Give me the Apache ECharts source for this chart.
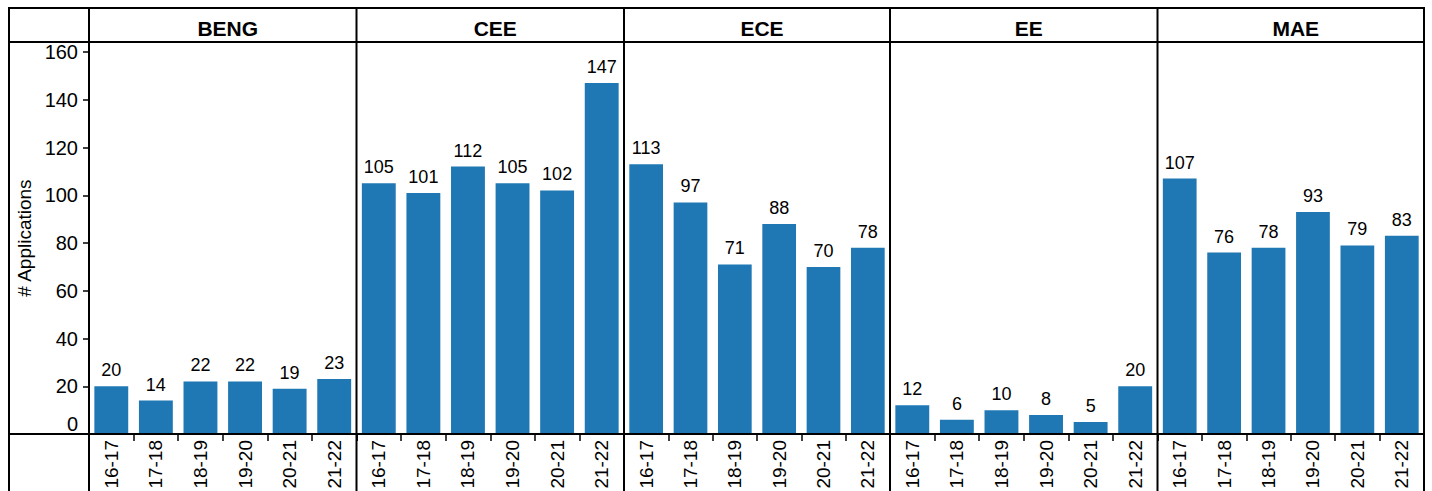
<!DOCTYPE html>
<html>
<head>
<meta charset="utf-8">
<script src="https://cdn.jsdelivr.net/npm/echarts@6/dist/echarts.min.js"></script>
<style>
html,body{margin:0;padding:0;background:#fff;}
#chart{width:1432px;height:491px;}
</style>
</head>
<body>
<div id="chart"></div>
<script>
// ---- data ----
const facets = ['BENG', 'CEE', 'ECE', 'EE', 'MAE'];
const years = ['16-17', '17-18', '18-19', '19-20', '20-21', '21-22'];
const beng = [20, 14, 22, 22, 19, 23];
const cee = [105, 101, 112, 105, 102, 147];
const ece = [113, 97, 71, 88, 70, 78];
const ee = [12, 6, 10, 8, 5, 20];
const mae = [107, 76, 78, 93, 79, 83];
const yTicks = [0, 20, 40, 60, 80, 100, 120, 140, 160];
const yTitle = '# Applications';

const seriesData = [beng, cee, ece, ee, mae];

// ---- layout ----
const FONT = '"Liberation Sans", Arial, Helvetica, sans-serif';
const cols = [89, 356.5, 624, 890, 1157.5, 1424];
const outerL = 9, outerT = 8, headB = 42, axisY = 434, H = 491;
const BAR = '#1f77b4';

const grids = [], xAxes = [], yAxes = [], series = [], titles = [];
facets.forEach((f, i) => {
  const l = cols[i], w = cols[i + 1] - cols[i];
  grids.push({ left: l, top: headB, width: w, height: axisY - headB, containLabel: false, outerBoundsMode: 'none' });
  titles.push({
    text: f, left: l + w / 2, top: 13, textAlign: 'center',
    textStyle: { fontFamily: FONT, fontSize: 21, fontWeight: 'bold', color: '#000' }
  });
  xAxes.push({
    type: 'category', gridIndex: i, data: years,
    axisLine: { show: false },
    axisTick: { show: true, length: 7, lineStyle: { color: '#000', width: 1.5 } },
    axisLabel: { rotate: 90, fontSize: 19, fontFamily: FONT, color: '#000', margin: 6 }
  });
  yAxes.push({
    type: 'value', gridIndex: i, min: 0, max: 164.2, interval: 20,
    show: i === 0,
    name: i === 0 ? yTitle : '',
    nameLocation: 'middle', nameRotate: 90, nameGap: 55,
    nameTextStyle: { fontFamily: FONT, fontSize: 19, color: '#000' },
    splitLine: { show: false },
    axisLine: { show: false },
    axisTick: { show: true, length: 6, customValues: yTicks, lineStyle: { color: '#000', width: 1.5 } },
    axisLabel: {
      fontSize: 20, fontFamily: FONT, color: '#000', margin: 11,
      customValues: yTicks, verticalAlignMinLabel: 'bottom'
    }
  });
  series.push({
    type: 'bar', xAxisIndex: i, yAxisIndex: i, data: seriesData[i],
    barCategoryGap: '24%',
    itemStyle: { color: BAR },
    label: { show: true, position: 'top', distance: 7, fontSize: 18, fontFamily: FONT, color: '#000' }
  });
});

// table lines
const lineStyle = { stroke: '#000', lineWidth: 2 };
const graphics = [];
function hline(y, x1, x2) { graphics.push({ type: 'line', shape: { x1, y1: y, x2, y2: y }, style: lineStyle, z: 100 }); }
function vline(x, y1, y2) { graphics.push({ type: 'line', shape: { x1: x, y1, x2: x, y2 }, style: lineStyle, z: 100 }); }
hline(outerT, outerL - 1, cols[cols.length - 1] + 1);
hline(headB, outerL, cols[cols.length - 1]);
hline(axisY, outerL, cols[cols.length - 1]);
vline(outerL, outerT, H);
cols.forEach(x => vline(x, outerT, H));

const chart = echarts.init(document.getElementById('chart'), null, { renderer: 'svg' });
chart.setOption({
  animation: false,
  backgroundColor: '#fff',
  title: titles,
  grid: grids,
  xAxis: xAxes,
  yAxis: yAxes,
  series: series,
  graphic: graphics
});
</script>
</body>
</html>
